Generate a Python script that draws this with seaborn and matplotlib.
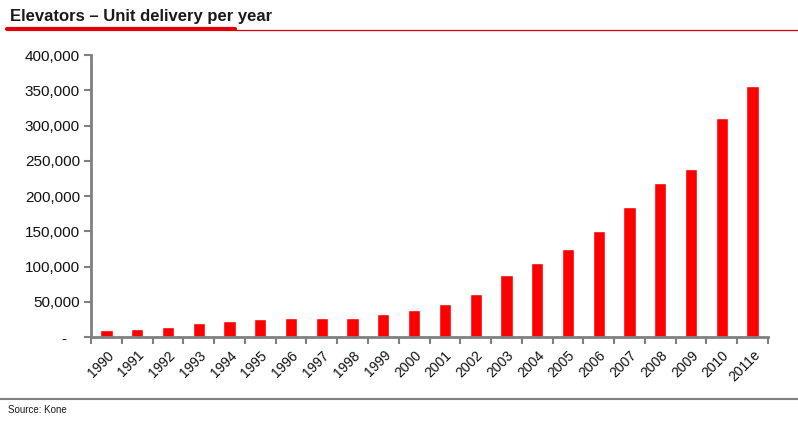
import matplotlib
matplotlib.use("Agg")
import matplotlib.pyplot as plt
import seaborn as sns
import pandas as pd
from matplotlib.ticker import FuncFormatter, FixedLocator

years = ["1990", "1991", "1992", "1993", "1994", "1995", "1996", "1997", "1998", "1999",
         "2000", "2001", "2002", "2003", "2004", "2005", "2006", "2007", "2008", "2009",
         "2010", "2011e"]
units = [9500, 12000, 14300, 20500, 22800, 25000, 27000, 27000, 27000, 32000,
         38000, 46500, 61500, 87500, 104500, 124500, 150000, 184500, 219000, 239000,
         310000, 356000]
title = "Elevators \u2013 Unit delivery per year"
source = "Source: Kone"

sns.set_style("ticks")
plt.rcParams['font.family'] = ['Liberation Sans', 'DejaVu Sans']

df = pd.DataFrame({"year": years, "units": units})

fig = plt.figure(figsize=(7.98, 4.23), dpi=100)
ax = fig.add_axes([91/798, (423-337)/423, (768-91)/798, (337-55)/423])

sns.barplot(data=df, x="year", y="units", color="#FF0000", width=0.4,
            saturation=1, ax=ax)

ax.set_ylim(0, 400000)
ax.set_xlim(-0.5, len(years) - 0.5)
ax.set_yticks(range(0, 400001, 50000))
ax.yaxis.set_major_formatter(FuncFormatter(lambda v, p: "-   " if v == 0 else f"{int(v):,}"))
ax.set_xlabel("")
ax.set_ylabel("")

# x ticks at category boundaries, labels centred on bars
ax.set_xticks([i for i in range(len(years))])
ax.set_xticklabels(years, rotation=45, ha="right", rotation_mode="anchor", fontsize=10,
                   color="#111111")
ax.tick_params(axis="x", length=0, pad=8)
ax.xaxis.set_minor_locator(FixedLocator([i - 0.5 for i in range(len(years) + 1)]))
ax.tick_params(axis="x", which="minor", length=5, width=1.5, color="#808080")
ax.tick_params(axis="y", length=5, width=1.5, color="#808080", labelsize=11, pad=3,
               labelcolor="#111111")

for s in ["top", "right"]:
    ax.spines[s].set_visible(False)
for s in ["left", "bottom"]:
    ax.spines[s].set_color("#808080")
    ax.spines[s].set_linewidth(2)

# Title and decorative lines
fig.text(10/798, 1 - 16/423, title, fontsize=12, fontweight="bold", va="center", ha="left",
         color="#1a1a1a")
fig.add_artist(plt.Line2D([7/798, 235/798], [1 - 29/423, 1 - 29/423], color="#E00000", lw=3))
fig.add_artist(plt.Line2D([235/798, 1.0], [1 - 30/423, 1 - 30/423], color="#D00000", lw=0.9))

# Source line
fig.add_artist(plt.Line2D([0, 1.0], [1 - 399/423, 1 - 399/423], color="#808080", lw=1.5))
fig.text(8/798, 1 - 410/423, source, fontsize=7, va="center", ha="left", color="#1a1a1a")

fig.savefig("out.png", dpi=100)
